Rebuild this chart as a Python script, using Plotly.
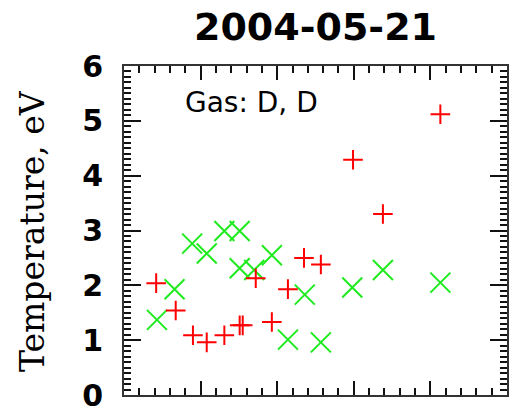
import plotly.graph_objects as go

# Temperature measurements, two species (red "+" and green "x")
red_x = [0.42, 0.675, 0.90, 1.08, 1.31, 1.51, 1.55, 1.72, 1.93, 2.14, 2.35, 2.57, 2.99, 3.38, 4.13]
red_te = [2.04, 1.54, 1.09, 0.96, 1.09, 1.27, 1.27, 2.13, 1.33, 1.93, 2.50, 2.38, 4.29, 3.30, 5.12]

green_x = [0.43, 0.66, 0.89, 1.08, 1.31, 1.51, 1.51, 1.70, 1.93, 2.14, 2.36, 2.57, 2.98, 3.38, 4.13]
green_te = [1.37, 1.93, 2.76, 2.58, 2.99, 2.99, 2.31, 2.28, 2.55, 1.01, 1.83, 0.96, 1.96, 2.28, 2.05]

title_text = "2004-05-21"
gas_label = "Gas: D, D"
y_title = "Temperature, eV"

fig = go.Figure()
fig.add_trace(go.Scatter(
    x=green_x, y=green_te, mode="markers",
    marker=dict(symbol="x-thin", size=20, line=dict(color="rgb(30,235,30)", width=2)),
    showlegend=False,
))
fig.add_trace(go.Scatter(
    x=red_x, y=red_te, mode="markers",
    marker=dict(symbol="cross-thin", size=14, line=dict(color="rgb(255,0,0)", width=2)),
    showlegend=False,
))

fig.update_layout(
    width=515, height=419,
    margin=dict(l=124, r=6, t=66, b=20),
    paper_bgcolor="white", plot_bgcolor="white",
    title=dict(
        text=title_text, x=0.5, xref="paper", xanchor="center",
        y=1 - 26.5 / 419, yref="container", yanchor="middle",
        font=dict(family="DejaVu Sans", size=38, color="black", weight="bold"),
    ),
    xaxis=dict(
        range=[0, 5], tickmode="linear", dtick=1, tick0=0, showticklabels=False,
        ticks="inside", ticklen=14, tickwidth=1.6, tickcolor="#111",
        minor=dict(dtick=0.2, tick0=0, ticks="inside", ticklen=7, tickwidth=1.5, tickcolor="#111"),
        showline=True, linecolor="#333", linewidth=2, mirror="allticks",
        showgrid=False, zeroline=False,
    ),
    yaxis=dict(
        range=[0, 6], tickmode="linear", dtick=1, tick0=0,
        ticks="inside", ticklen=17, tickwidth=1.6, tickcolor="#111",
        minor=dict(dtick=0.1, tick0=0, ticks="inside", ticklen=7, tickwidth=1.5, tickcolor="#111"),
        showline=True, linecolor="#333", linewidth=2, mirror="allticks",
        showgrid=False, zeroline=False,
        tickfont=dict(family="DejaVu Sans", size=30, color="black", weight="bold"),
        ticklabelstandoff=13,
    ),
    annotations=[
        dict(text=gas_label, x=0.153, y=5.33, xref="paper", yref="y",
             xanchor="left", yanchor="middle", showarrow=False,
             font=dict(family="DejaVu Sans", size=28, color="black")),
        dict(text=y_title, x=(32 - 124) / 385, y=0.5, xref="paper", yref="paper",
             xanchor="center", yanchor="middle", textangle=-90, showarrow=False,
             font=dict(family="DejaVu Serif", size=33, color="black")),
    ],
)

fig.write_html("out.html")
